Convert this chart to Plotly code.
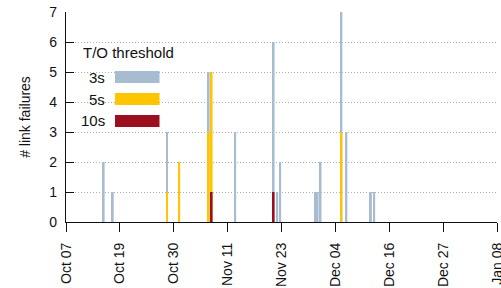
import plotly.graph_objects as go
import pandas as pd

# ---- data ----
t3_times = ["2012-10-15 03:00", "2012-10-17 02:00", "2012-10-28 19:00", "2012-11-06 19:00",
            "2012-11-12 12:00", "2012-11-20 19:00", "2012-11-21 14:00", "2012-11-22 05:00",
            "2012-11-29 19:00", "2012-11-30 07:00", "2012-11-30 22:00", "2012-12-05 10:00",
            "2012-12-06 12:00", "2012-12-11 19:00", "2012-12-12 12:00"]
t3_counts = [2, 1, 3, 5, 3, 6, 1, 2, 1, 1, 2, 7, 3, 1, 1]

t5_times = ["2012-10-28 19:00", "2012-10-31 10:00", "2012-11-06 19:00", "2012-11-07 10:00",
            "2012-12-05 10:00"]
t5_counts = [1, 2, 3, 5, 3]

t10_times = ["2012-11-07 10:00", "2012-11-20 19:00"]
t10_counts = [1, 1]

series_names = ["3s", "5s", "10s"]
series_colors = ["#a8bcd1", "#ffc500", "#9b0f1f"]

x_start = "2012-10-07"
x_end = "2013-01-08"
tick_labels = ["Oct 07", "Oct 19", "Oct 30", "Nov 11", "Nov 23", "Dec 04", "Dec 16", "Dec 27", "Jan 08"]
y_ticks = [0, 1, 2, 3, 4, 5, 6, 7]

# ---- layout geometry ----
W, H = 501, 288
L, R, T, B = 66, 4, 12, 66
PW, PH = W - L - R, H - T - B
FONT = "Liberation Sans, Arial, Helvetica, sans-serif"

def px(x):
    return (x - L) / PW

def py(y):
    return (H - B - y) / PH

bar_w = 0.42 * 24 * 3600 * 1000  # ms

fig = go.Figure()
for name, times, counts, col in zip(series_names,
                                    [t3_times, t5_times, t10_times],
                                    [t3_counts, t5_counts, t10_counts],
                                    series_colors):
    fig.add_trace(go.Bar(x=pd.to_datetime(times), y=counts, name=name,
                         marker=dict(color=col, line=dict(width=0)),
                         width=bar_w, showlegend=False, hoverinfo="skip"))

tickvals = pd.date_range(x_start, x_end, periods=len(tick_labels))

fig.update_layout(
    width=W, height=H,
    margin=dict(l=L, r=R, t=T, b=B, pad=0),
    barmode="overlay",
    plot_bgcolor="white", paper_bgcolor="white",
    font=dict(family=FONT, size=14, color="#111"),
    xaxis=dict(type="date", range=[pd.Timestamp(x_start), pd.Timestamp(x_end)],
               tickmode="array", tickvals=tickvals, ticktext=tick_labels,
               tickangle=-90, ticks="outside", ticklen=9, tickcolor="#111",
               showline=True, linecolor="#111", linewidth=1.2,
               showgrid=False, zeroline=False, automargin=False,
               ticklabeloverflow="allow", ticklabelstandoff=5,
               tickfont=dict(family=FONT, size=14, color="#111")),
    yaxis=dict(range=[0, 7], tickmode="array", tickvals=y_ticks,
               ticks="inside", ticklen=8, tickcolor="#111",
               showline=True, linecolor="#111", linewidth=1.2,
               showgrid=True, gridcolor="#b0b0b0", griddash="1px,2px", gridwidth=1,
               zeroline=False, ticklabelstandoff=5, automargin=False,
               title=dict(text="# link failures", standoff=15,
                          font=dict(family=FONT, size=14, color="#111")),
               tickfont=dict(family=FONT, size=14, color="#111")),
)

# ---- custom legend (text left of swatch) ----
fig.add_annotation(xref="paper", yref="paper", x=px(81), y=py(53), text="T/O threshold",
                   showarrow=False, xanchor="left", yanchor="middle",
                   font=dict(family=FONT, size=15, color="#111"))
sw_rows = [(71, 83), (93, 105), (115, 127)]
for name, col, (y0, y1) in zip(series_names, series_colors, sw_rows):
    fig.add_shape(type="rect", xref="paper", yref="paper",
                  x0=px(115), x1=px(159.5), y0=py(y1), y1=py(y0),
                  fillcolor=col, line=dict(width=0), layer="above")
    fig.add_annotation(xref="paper", yref="paper", x=px(107), y=py((y0 + y1) / 2),
                       text=name, showarrow=False, xanchor="right", yanchor="middle",
                       font=dict(family=FONT, size=15, color="#111"))

fig.write_html("out.html", config={"displayModeBar": False},
               post_script="document.body.style.margin='0';document.body.style.overflow='hidden';")
